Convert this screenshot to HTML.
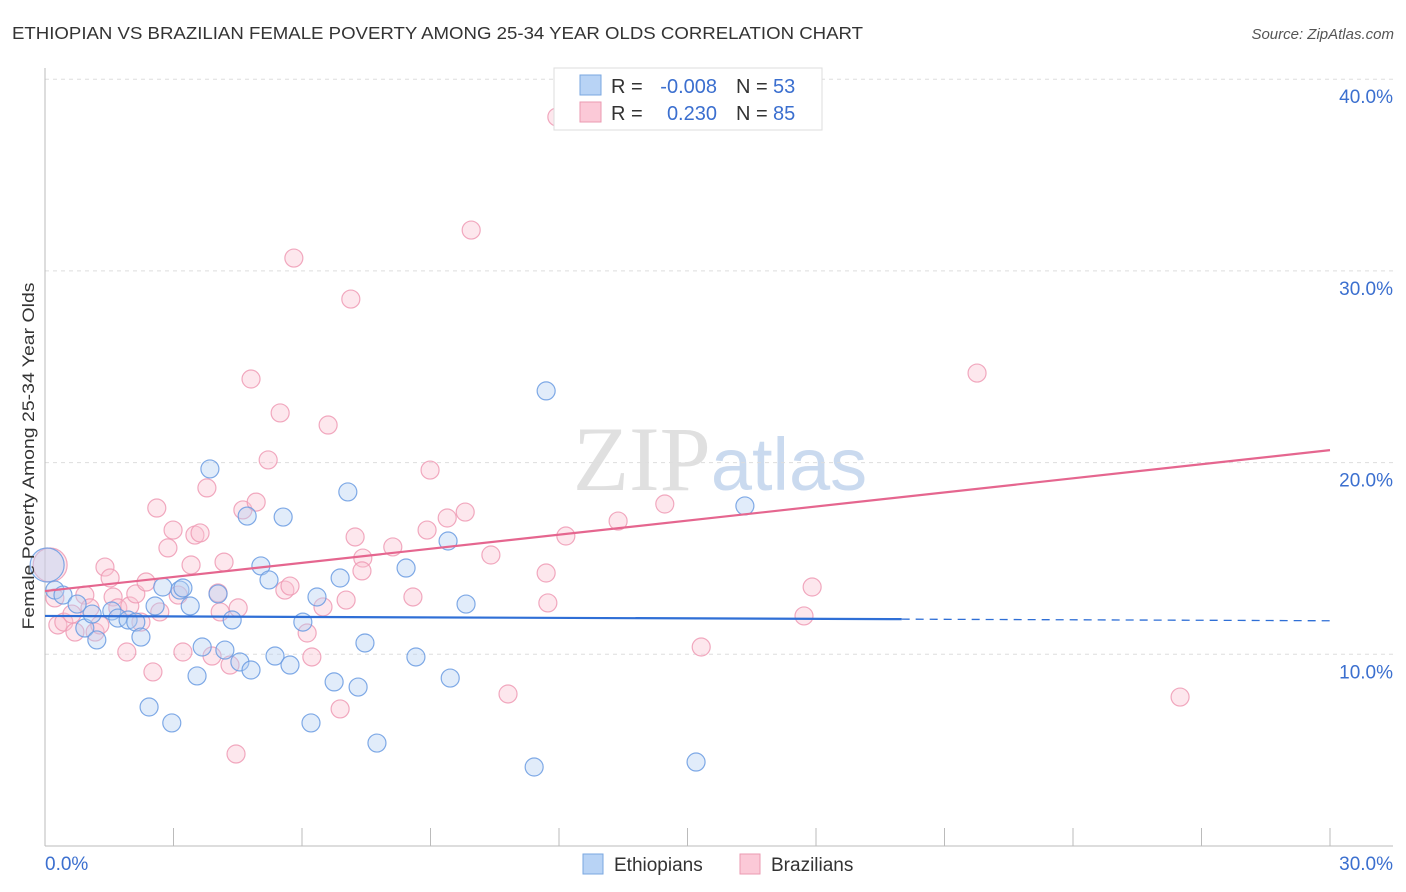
<!DOCTYPE html>
<html><head><meta charset="utf-8"><style>
body{margin:0;background:#fff;font-family:"Liberation Sans",sans-serif;}
svg{display:block}
</style></head><body>
<svg id="chart" width="1406" height="892" xmlns="http://www.w3.org/2000/svg">
<text x="12" y="39" font-size="17.5" fill="#333" textLength="851" lengthAdjust="spacingAndGlyphs">ETHIOPIAN VS BRAZILIAN FEMALE POVERTY AMONG 25-34 YEAR OLDS CORRELATION CHART</text>
<text x="1394" y="39" font-size="15" fill="#555" font-style="italic" text-anchor="end">Source: ZipAtlas.com</text>
<text x="720" y="490" font-size="92" fill="#ddd" text-anchor="middle" font-family="Liberation Serif" opacity="0.9">ZIP<tspan fill="#c5d6ee" font-family="Liberation Sans" font-size="74">atlas</tspan></text>
<g id="grid"></g>
<g id="axes"></g>
<g id="pts"></g>
<g id="lines"></g>
<text transform="translate(34,456) rotate(-90)" font-size="17" fill="#333" text-anchor="middle" textLength="347" lengthAdjust="spacingAndGlyphs">Female Poverty Among 25-34 Year Olds</text>
<g font-size="20">
<rect x="554" y="68" width="268" height="62" fill="#fff" stroke="#ddd"/>
<rect x="580" y="75" width="21" height="20" fill="#b8d3f5" stroke="#7aa7e0"/>
<rect x="580" y="102" width="21" height="20" fill="#fbc9d7" stroke="#eb9ab2"/>
<text x="611" y="93" fill="#333">R =</text>
<text x="717" y="93" fill="#3b6fcf" text-anchor="end">-0.008</text>
<text x="736" y="93" fill="#333">N =</text>
<text x="773" y="93" fill="#3b6fcf">53</text>
<text x="611" y="120" fill="#333">R =</text>
<text x="717" y="120" fill="#3b6fcf" text-anchor="end">0.230</text>
<text x="736" y="120" fill="#333">N =</text>
<text x="773" y="120" fill="#3b6fcf">85</text>
</g>
<g>
<rect x="583" y="854" width="20" height="20" fill="#b8d3f5" stroke="#7aa7e0"/>
<text x="614" y="871" font-size="19" fill="#333">Ethiopians</text>
<rect x="740" y="854" width="20" height="20" fill="#fbc9d7" stroke="#eb9ab2"/>
<text x="771" y="871" font-size="19" fill="#333">Brazilians</text>
</g>
</svg>
<script>
const yTicks=[10,20,30,40];
const xTickLabels=["0.0%","30.0%"];
const bluePx=[[47,565],[55,590],[63,595],[77,604],[85,628],[97,640],[92,614],[112,611],[118,618],[128,620],[136,622],[141,637],[149,707],[155,606],[163,587],[172,723],[180,590],[183,588],[190,606],[197,676],[202,647],[210,469],[218,594],[225,650],[232,620],[240,662],[247,516],[251,670],[261,566],[269,580],[283,517],[275,656],[290,665],[303,622],[311,723],[317,597],[334,682],[340,578],[348,492],[358,687],[365,643],[377,743],[406,568],[416,657],[448,541],[450,678],[466,604],[534,767],[546,391],[696,762],[745,506]];
const pinkPx=[[50,565],[55,598],[58,625],[64,622],[72,614],[75,632],[85,595],[90,608],[95,632],[100,625],[105,567],[110,578],[113,597],[118,608],[127,652],[130,606],[136,594],[141,622],[146,582],[153,672],[157,508],[160,612],[168,548],[173,530],[178,595],[183,652],[191,565],[195,535],[200,533],[207,488],[212,656],[218,593],[220,612],[224,562],[230,665],[236,754],[238,608],[243,510],[251,379],[256,502],[268,460],[280,413],[285,590],[290,586],[294,258],[307,633],[312,657],[323,607],[328,425],[340,709],[346,600],[351,299],[355,537],[363,558],[362,571],[393,547],[413,597],[427,530],[430,470],[447,518],[465,512],[471,230],[491,555],[508,694],[546,573],[548,603],[566,536],[618,521],[665,504],[701,647],[804,616],[812,587],[977,373],[1180,697],[557,117]];
const X0=45,X1=1330,Y0=846,PPY=19.17;
const ethX=bluePx.map(p=>+((p[0]-X0)/(X1-X0)*30).toFixed(2));
const ethY=bluePx.map(p=>+((Y0-p[1])/PPY).toFixed(2));
const braX=pinkPx.map(p=>+((p[0]-X0)/(X1-X0)*30).toFixed(2));
const braY=pinkPx.map(p=>+((Y0-p[1])/PPY).toFixed(2));
const ethTrend=[12.0,11.75];
const braTrend=[13.3,20.65];
const sx=v=>X0+v/30*(X1-X0), sy=v=>Y0-v*PPY;
const NS="http://www.w3.org/2000/svg";
function mk(tag,attrs,parent){const e=document.createElementNS(NS,tag);for(const k in attrs)e.setAttribute(k,attrs[k]);parent.appendChild(e);return e;}
const grid=document.getElementById('grid'),axes=document.getElementById('axes'),pts=document.getElementById('pts'),lines=document.getElementById('lines');
yTicks.forEach(t=>{
 const l=mk('line',{x1:45,x2:1393,y1:sy(t),y2:sy(t),stroke:'#ddd','stroke-dasharray':'4,4'},grid);
 
 
 const tx=mk('text',{x:1393,y:sy(t)+24,'font-size':19,fill:'#3b6fcf','text-anchor':'end'},axes);
 tx.textContent=t.toFixed(1)+'%';
 
 
});
const ax=mk('line',{x1:45,x2:45,y1:68,y2:846,stroke:'#bbb'},axes);


const bx=mk('line',{x1:45,x2:1393,y1:846,y2:846,stroke:'#bbb'},axes);


for(let i=0;i<=10;i++){const x=45+i*128.5;const t=mk('line',{x1:x,x2:x,y1:828,y2:846,stroke:'#bbb'},axes);
 
 }
[[0,'start',45],[30,'end',1393]].forEach((d,i)=>{const t=mk('text',{x:d[2],y:870,'font-size':19,fill:'#3b6fcf','text-anchor':d[1]},axes);t.textContent=xTickLabels[i];
 
 });
function dots(xs,ys,fill,stroke,name){xs.forEach((x,i)=>{const big=x<0.2;
 const c=mk('circle',{cx:sx(x),cy:sy(ys[i]),r:big?17:9,fill:fill,'fill-opacity':0.4,stroke:stroke,'stroke-width':1.2,'stroke-opacity':0.85},pts);
 
 });}
dots(braX,braY,'#f9c3d3','#ee9ab4','brazilian-point');
dots(ethX,ethY,'#b5d0f3','#6a9be2','ethiopian-point');
const slope=(ethTrend[1]-ethTrend[0])/30;
const bl=mk('line',{x1:sx(0),y1:sy(ethTrend[0]),x2:sx(20),y2:sy(ethTrend[0]+slope*20),stroke:'#2f6fd6','stroke-width':2.2},lines);


const bd=mk('line',{x1:sx(20),y1:sy(ethTrend[0]+slope*20),x2:sx(30),y2:sy(ethTrend[1]),stroke:'#2f6fd6','stroke-width':1.3,'stroke-dasharray':'8,6'},lines);


const pl=mk('line',{x1:sx(0),y1:sy(braTrend[0]),x2:sx(30),y2:sy(braTrend[1]),stroke:'#e5668f','stroke-width':2.2},lines);


</script>
</body></html>
